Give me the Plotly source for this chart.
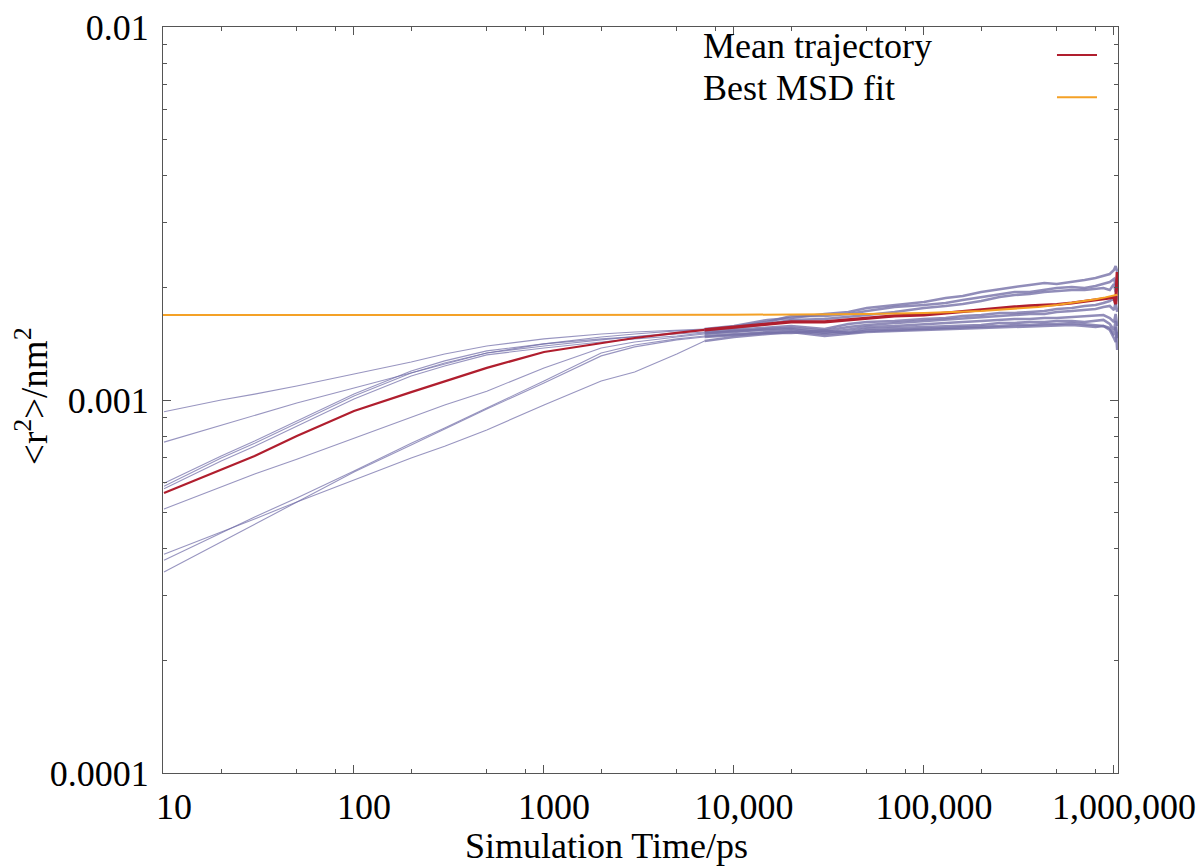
import plotly.graph_objects as go

# ---------------- data ----------------
t_ps = [10, 20, 30, 50, 100, 200, 300, 500, 1000, 2000, 3000, 5000, 7000,
        10000, 15000, 20000, 30000, 40000, 50000, 70000, 100000, 130000, 160000,
        200000, 250000, 300000, 360000, 430000, 500000, 600000, 700000, 800000,
        880000, 950000, 1000000, 1020000, 1040000]

traj_1 = [9.30e-4, 1.000e-3, 1.037e-3, 1.090e-3, 1.174e-3, 1.265e-3, 1.329e-3, 1.396e-3, 1.458e-3,
          1.503e-3, 1.522e-3, 1.541e-3, 1.550e-3,
          1.579e-3, 1.639e-3, 1.659e-3, 1.700e-3, 1.722e-3, 1.765e-3, 1.798e-3, 1.831e-3, 1.877e-3,
          1.900e-3, 1.948e-3, 1.984e-3, 2.009e-3, 2.034e-3, 2.059e-3, 2.047e-3, 2.072e-3, 2.098e-3,
          2.123e-3, 2.150e-3, 2.176e-3, 2.231e-3, 2.287e-3, 2.204e-3]
traj_2 = [7.71e-4, 8.57e-4, 9.12e-4, 9.82e-4, 1.077e-3, 1.181e-3, 1.250e-3, 1.337e-3, 1.414e-3,
          1.476e-3, 1.503e-3, 1.532e-3, 1.541e-3,
          1.569e-3, 1.619e-3, 1.680e-3, 1.680e-3, 1.700e-3, 1.732e-3, 1.776e-3, 1.798e-3, 1.820e-3,
          1.854e-3, 1.888e-3, 1.924e-3, 1.948e-3, 1.948e-3, 1.972e-3, 1.997e-3, 2.009e-3, 1.997e-3,
          2.022e-3, 2.047e-3, 2.072e-3, 2.111e-3, 2.034e-3, 2.150e-3]
traj_3 = [5.98e-4, 7.08e-4, 7.76e-4, 8.79e-4, 1.037e-3, 1.196e-3, 1.273e-3, 1.354e-3, 1.414e-3,
          1.458e-3, 1.476e-3, 1.503e-3, 1.522e-3,
          1.541e-3, 1.569e-3, 1.579e-3, 1.550e-3, 1.599e-3, 1.619e-3, 1.629e-3, 1.649e-3, 1.659e-3,
          1.680e-3, 1.690e-3, 1.711e-3, 1.711e-3, 1.722e-3, 1.732e-3, 1.754e-3, 1.765e-3, 1.787e-3,
          1.798e-3, 1.820e-3, 1.843e-3, 1.877e-3, 1.798e-3, 1.900e-3]
traj_4 = [5.87e-4, 6.99e-4, 7.66e-4, 8.68e-4, 1.025e-3, 1.181e-3, 1.257e-3, 1.337e-3, 1.396e-3,
          1.449e-3, 1.476e-3, 1.513e-3, 1.541e-3,
          1.560e-3, 1.599e-3, 1.639e-3, 1.649e-3, 1.669e-3, 1.690e-3, 1.722e-3, 1.765e-3, 1.787e-3,
          1.809e-3, 1.843e-3, 1.888e-3, 1.912e-3, 1.924e-3, 1.948e-3, 1.960e-3, 1.972e-3, 1.972e-3,
          1.984e-3, 1.997e-3, 1.972e-3, 2.047e-3, 1.948e-3, 2.009e-3]
traj_5 = [5.78e-4, 6.86e-4, 7.52e-4, 8.52e-4, 1.006e-3, 1.160e-3, 1.234e-3, 1.321e-3, 1.379e-3,
          1.431e-3, 1.458e-3, 1.485e-3, 1.513e-3,
          1.522e-3, 1.550e-3, 1.560e-3, 1.532e-3, 1.569e-3, 1.589e-3, 1.609e-3, 1.629e-3, 1.639e-3,
          1.659e-3, 1.669e-3, 1.680e-3, 1.690e-3, 1.700e-3, 1.700e-3, 1.722e-3, 1.732e-3, 1.743e-3,
          1.754e-3, 1.776e-3, 1.787e-3, 1.743e-3, 1.831e-3, 1.722e-3]
traj_6 = [5.10e-4, 5.85e-4, 6.33e-4, 6.94e-4, 7.91e-4, 9.01e-4, 9.70e-4, 1.056e-3, 1.219e-3,
          1.379e-3, 1.431e-3, 1.476e-3, 1.503e-3,
          1.532e-3, 1.541e-3, 1.550e-3, 1.513e-3, 1.541e-3, 1.569e-3, 1.579e-3, 1.599e-3, 1.609e-3,
          1.619e-3, 1.629e-3, 1.639e-3, 1.649e-3, 1.649e-3, 1.659e-3, 1.659e-3, 1.669e-3, 1.680e-3,
          1.680e-3, 1.690e-3, 1.659e-3, 1.619e-3, 1.700e-3, 1.579e-3]
traj_7 = [3.72e-4, 4.40e-4, 4.86e-4, 5.46e-4, 6.45e-4, 7.66e-4, 8.41e-4, 9.52e-4, 1.124e-3,
          1.337e-3, 1.405e-3, 1.458e-3, 1.485e-3,
          1.503e-3, 1.522e-3, 1.532e-3, 1.503e-3, 1.522e-3, 1.550e-3, 1.560e-3, 1.569e-3, 1.579e-3,
          1.579e-3, 1.589e-3, 1.609e-3, 1.609e-3, 1.619e-3, 1.619e-3, 1.629e-3, 1.629e-3, 1.619e-3,
          1.629e-3, 1.639e-3, 1.599e-3, 1.541e-3, 1.629e-3, 1.466e-3]
traj_8 = [3.46e-4, 4.16e-4, 4.65e-4, 5.33e-4, 6.41e-4, 7.57e-4, 8.36e-4, 9.46e-4, 1.110e-3,
          1.313e-3, 1.388e-3, 1.449e-3, 1.476e-3,
          1.494e-3, 1.513e-3, 1.513e-3, 1.532e-3, 1.513e-3, 1.532e-3, 1.541e-3, 1.550e-3, 1.560e-3,
          1.569e-3, 1.569e-3, 1.579e-3, 1.589e-3, 1.589e-3, 1.599e-3, 1.599e-3, 1.609e-3, 1.599e-3,
          1.589e-3, 1.579e-3, 1.560e-3, 1.494e-3, 1.569e-3, 1.362e-3]
traj_9 = [3.86e-4, 4.42e-4, 4.80e-4, 5.33e-4, 6.10e-4, 6.99e-4, 7.52e-4, 8.31e-4, 9.70e-4,
          1.124e-3, 1.188e-3, 1.329e-3, 1.440e-3,
          1.476e-3, 1.503e-3, 1.522e-3, 1.485e-3, 1.503e-3, 1.522e-3, 1.532e-3, 1.541e-3, 1.550e-3,
          1.560e-3, 1.560e-3, 1.569e-3, 1.569e-3, 1.579e-3, 1.579e-3, 1.589e-3, 1.589e-3, 1.579e-3,
          1.569e-3, 1.579e-3, 1.541e-3, 1.466e-3, 1.431e-3, 1.522e-3]

mean_traj = [5.63e-4, 6.49e-4, 7.08e-4, 8.01e-4, 9.34e-4, 1.050e-3, 1.124e-3, 1.219e-3, 1.345e-3,
             1.422e-3, 1.466e-3, 1.513e-3, 1.541e-3,
             1.569e-3, 1.599e-3, 1.619e-3, 1.619e-3, 1.639e-3, 1.659e-3, 1.680e-3, 1.690e-3, 1.711e-3,
             1.732e-3, 1.743e-3, 1.765e-3, 1.776e-3, 1.787e-3, 1.792e-3, 1.803e-3, 1.820e-3, 1.837e-3,
             1.854e-3, 1.865e-3, 1.877e-3, 1.888e-3, 1.808e-3, 2.204e-3]

fit_t = [9.5, 1000, 10000, 50000, 100000, 200000, 300000, 400000, 500000, 600000, 700000,
         800000, 900000, 1000000, 1040000]
fit_msd = [1.690e-3, 1.690e-3, 1.692e-3, 1.701e-3, 1.712e-3, 1.733e-3, 1.755e-3, 1.776e-3,
           1.798e-3, 1.820e-3, 1.841e-3, 1.863e-3, 1.884e-3, 1.906e-3, 1.915e-3]

trajectories = [traj_1, traj_2, traj_3, traj_4, traj_5, traj_6, traj_7, traj_8, traj_9]

x_tick_vals = [10, 100, 1000, 10000, 100000, 1000000]
x_tick_text = ["10", "100", "1000", "10,000", "100,000", "1,000,000"]
x_minor_vals = [20, 50, 80, 200, 500, 800, 2000, 5000, 8000, 20000, 50000, 80000,
                200000, 500000, 800000]
y_tick_vals = [0.0001, 0.001, 0.01]
y_tick_text = ["0.0001", "0.001", "0.01"]
y_minor_vals = [2e-4, 3e-4, 4e-4, 5e-4, 6e-4, 7e-4, 8e-4, 9e-4,
                2e-3, 3e-3, 4e-3, 5e-3, 6e-3, 7e-3, 8e-3, 9e-3]

legend_labels = ["Mean trajectory", "Best MSD fit"]

# ---------------- styling ----------------
FONT = "Liberation Serif, Times New Roman, serif"
FS = 36
PURPLE = "rgba(112,108,168,0.72)"
PURPLE_NOISY = "rgba(118,112,168,0.80)"
RED = "#B01E2E"
ORANGE = "#F4A126"
FRAME = "#555555"
SPLIT = 12  # index of 7000 ps: where the trajectories start to become noisy

fig = go.Figure()
for tr in trajectories:
    fig.add_trace(go.Scatter(x=t_ps[:SPLIT + 1], y=tr[:SPLIT + 1], mode="lines",
                             line=dict(color=PURPLE, width=1.1),
                             showlegend=False, hoverinfo="skip"))
for tr in trajectories:
    fig.add_trace(go.Scatter(x=t_ps[SPLIT:], y=tr[SPLIT:], mode="lines",
                             line=dict(color=PURPLE_NOISY, width=2.6),
                             showlegend=False, hoverinfo="skip"))
fig.add_trace(go.Scatter(x=t_ps[:SPLIT + 1], y=mean_traj[:SPLIT + 1], mode="lines",
                         line=dict(color=RED, width=2.2),
                         name=legend_labels[0], showlegend=False))
fig.add_trace(go.Scatter(x=t_ps[SPLIT:], y=mean_traj[SPLIT:], mode="lines",
                         line=dict(color=RED, width=3.2),
                         name=legend_labels[0], showlegend=False))
fig.add_trace(go.Scatter(x=fit_t, y=fit_msd, mode="lines",
                         line=dict(color=ORANGE, width=2),
                         name=legend_labels[1], showlegend=False))

axis_common = dict(
    type="log", showgrid=False, zeroline=False, automargin=False,
    showline=True, linecolor=FRAME, linewidth=1.3, mirror="allticks",
    ticks="inside", ticklen=8, tickwidth=1, tickcolor=FRAME,
    tickfont=dict(family=FONT, size=FS, color="black"),
    tickmode="array", ticklabeloverflow="allow",
)

fig.update_xaxes(**axis_common, range=[0.9948, 6.0211],
                 tickvals=x_tick_vals, ticktext=x_tick_text,
                 ticklabelshift=10, ticklabelstandoff=2,
                 minor=dict(tickmode="array", tickvals=x_minor_vals, ticks="inside",
                            ticklen=4, tickwidth=1, tickcolor=FRAME))
fig.update_yaxes(**axis_common, range=[-4, -2],
                 tickvals=y_tick_vals, ticktext=y_tick_text,
                 ticklabelstandoff=6,
                 minor=dict(tickmode="array", tickvals=y_minor_vals, ticks="inside",
                            ticklen=4, tickwidth=1, tickcolor=FRAME))

annotations = [
    dict(text="&lt;r<sup>2</sup>&gt;/nm<sup>2</sup>", textangle=-90,
         xref="paper", yref="paper", x=-0.1372, y=0.5054,
         xanchor="center", yanchor="middle", showarrow=False,
         font=dict(family=FONT, size=37, color="black")),
    dict(text="Simulation Time/ps", xref="paper", yref="paper",
         x=0.4639, y=-0.0684, xanchor="center", yanchor="top", showarrow=False,
         font=dict(family=FONT, size=FS, color="black")),
    dict(text=legend_labels[0], xref="paper", yref="paper", x=0.5634, y=0.9743,
         xanchor="left", yanchor="middle", showarrow=False,
         font=dict(family=FONT, size=FS, color="black")),
    dict(text=legend_labels[1], xref="paper", yref="paper", x=0.5634, y=0.9184,
         xanchor="left", yanchor="middle", showarrow=False,
         font=dict(family=FONT, size=FS, color="black")),
]
shapes = [
    dict(type="line", xref="paper", yref="paper", x0=0.9361, x1=0.978, y0=0.9625, y1=0.9625,
         line=dict(color=RED, width=2)),
    dict(type="line", xref="paper", yref="paper", x0=0.9361, x1=0.978, y0=0.9058, y1=0.9058,
         line=dict(color=ORANGE, width=2)),
]

# the page adds an 8 px body margin, so the figure is drawn 8 px smaller and offset
fig.update_layout(
    width=1196, height=858,
    margin=dict(l=155, r=86, t=19, b=93, autoexpand=False),
    paper_bgcolor="white", plot_bgcolor="white",
    annotations=annotations, shapes=shapes,
    font=dict(family=FONT, size=FS, color="black"),
)

fig.write_html("out.html")
